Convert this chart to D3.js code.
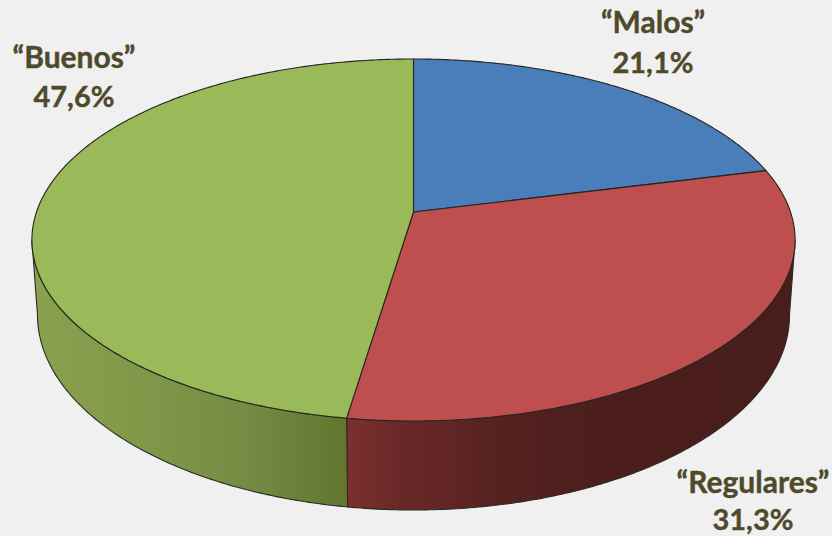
<!DOCTYPE html>
<html>
<head>
<meta charset="utf-8">
<script src="https://cdn.jsdelivr.net/npm/d3@7"></script>
<style>
html, body { margin: 0; padding: 0; background: #f0f0f0; }
svg { display: block; }
text { font-family: Lato, "Open Sans", sans-serif; font-weight: 700; fill: #4f4a2b; stroke: #4f4a2b; stroke-width: 0.4; text-anchor: middle; }
</style>
</head>
<body>
<div id="chart"></div>
<script>
var categories = ['“Malos”', '“Regulares”', '“Buenos”'];
var values = [21.1, 31.3, 47.6];
var topColors = ['#4a7ebb', '#be4f4e', '#9aba59'];

var width = 832, height = 536;

// perspective of the disc: apex, top and bottom of the ellipse were measured on the picture
var cx = 413.5, apexY = 212, persp = -0.1547, slope = 143.87, radius = 377;
var midY = 240, halfH = 181, halfW = radius / Math.sqrt(1 - persp * persp);
// the lower face is an ellipse of its own, a bit narrower and more open
var lowW = 376, lowH = 195, lowY = 315;

function topPoint(t) {
    var u = Math.sin(t), v = -Math.cos(t), d = 1 + persp * v;
    return [cx + radius * u / d, (slope * v + apexY) / d];
}

function lowPoint(t) {
    var p = topPoint(t);
    return [cx + (p[0] - cx) / halfW * lowW, lowY + (p[1] - midY) / halfH * lowH];
}

function samples(a0, a1) {
    var n = Math.max(2, Math.ceil((a1 - a0) / 0.01));
    return d3.range(n + 1).map(function(i) { return a0 + (a1 - a0) * i / n; });
}

var line = d3.line();

var svg = d3.select('#chart').append('svg')
    .attr('width', width)
    .attr('height', height);

var defs = svg.append('defs');

function addGradient(id, stops) {
    defs.append('linearGradient')
        .attr('id', id)
        .attr('gradientUnits', 'userSpaceOnUse')
        .attr('x1', 0).attr('x2', width).attr('y1', 0).attr('y2', 0)
        .selectAll('stop').data(stops).enter().append('stop')
        .attr('offset', function(d) { return d[0] / width; })
        .attr('stop-color', function(d) { return d[1]; });
}

addGradient('wallGreen', [[31, '#8aa24f'], [150, '#7f9748'], [250, '#748b43'], [347, '#61752f']]);
addGradient('wallRed', [[347, '#7b302e'], [400, '#6a2828'], [500, '#562220'], [600, '#4b1e1c'], [797, '#491d1b']]);

var slices = d3.pie().sort(null).startAngle(0).endAngle(2 * Math.PI)(values);

// side wall, only the part of the rim that faces the viewer
var edgeRight = Math.acos(persp), edgeLeft = 2 * Math.PI - edgeRight;
var wallFill = [null, 'url(#wallRed)', 'url(#wallGreen)'];

slices.forEach(function(s, i) {
    var a0 = Math.max(s.startAngle, edgeRight), a1 = Math.min(s.endAngle, edgeLeft);
    if (a1 <= a0) return;
    var ts = samples(a0, a1);
    var pts = ts.map(topPoint).concat(ts.slice().reverse().map(lowPoint));
    svg.append('path')
        .attr('d', line(pts) + 'Z')
        .attr('fill', wallFill[i])
        .attr('stroke', '#2b2b24')
        .attr('stroke-width', 1.1)
        .attr('stroke-linejoin', 'round');
});

// top face
slices.forEach(function(s, i) {
    var pts = [[cx, apexY]].concat(samples(s.startAngle, s.endAngle).map(topPoint));
    svg.append('path')
        .attr('d', line(pts) + 'Z')
        .attr('fill', topColors[i])
        .attr('stroke', '#25251f')
        .attr('stroke-width', 1.1)
        .attr('stroke-linejoin', 'round');
});

// labels
var labelPos = [[653, 33, 73], [753, 493, 530], [74, 68, 107]];

categories.forEach(function(c, i) {
    var pct = String(values[i]).replace('.', ',') + '%';
    svg.append('text').attr('x', labelPos[i][0]).attr('y', labelPos[i][1]).attr('font-size', 30).text(c);
    svg.append('text').attr('x', labelPos[i][0]).attr('y', labelPos[i][2]).attr('font-size', 29).text(pct);
});
</script>
</body>
</html>
